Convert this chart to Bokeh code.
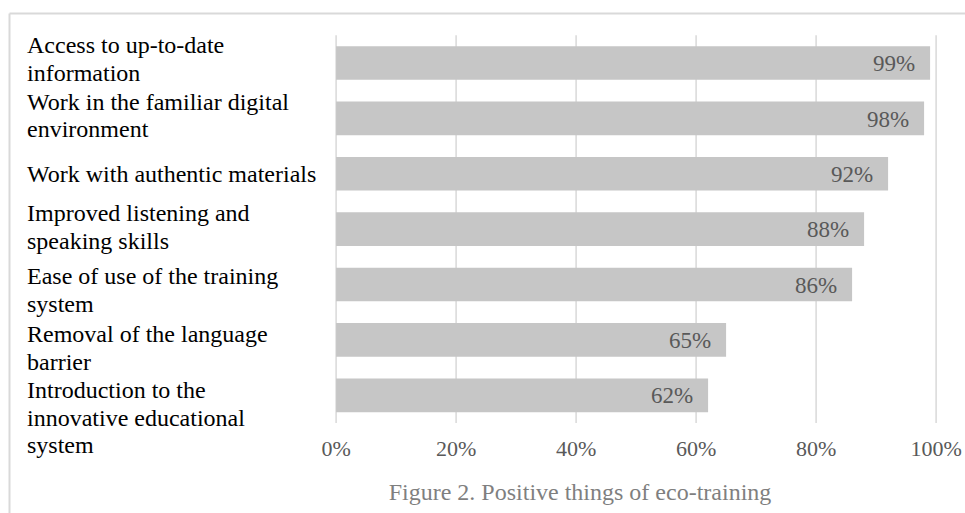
from bokeh.plotting import figure
from bokeh.models import Range1d, ColumnDataSource
from bokeh.core.properties import value
from bokeh.embed import file_html
from bokeh.resources import INLINE

# ---- data ----
categories = [
    "Access to up-to-date\ninformation",
    "Work in the familiar digital\nenvironment",
    "Work with authentic materials",
    "Improved listening and\nspeaking skills",
    "Ease of use of the training\nsystem",
    "Removal of the language\nbarrier",
    "Introduction to the\ninnovative educational\nsystem",
]
values = [99, 98, 92, 88, 86, 65, 62]
ticks = [0, 20, 40, 60, 80, 100]
tick_labels = ["0%", "20%", "40%", "60%", "80%", "100%"]
title_text = "Figure 2. Positive things of eco-training"

# ---- layout (pixels) ----
W, H = 965, 513
X0 = 335.6      # pixel of 0%
PXP = 6.0       # pixels per percent
Y0 = 62.5       # pixel centre of first category
BAND = 55.38    # pixels per category
LINE = 27.6     # label line spacing
label_first_baseline = [-9.2, -8.0, 9.6, -7.3, 0.8, 3.2, 3.7]
BASE_FIX = 0.37  # renderer baseline correction (em)

FONT = value("Liberation Serif")


def dx(px):
    return (px - X0) / PXP


def dy(py):
    return (py - Y0) / BAND


p = figure(width=W, height=H,
           x_range=Range1d(dx(0), dx(W)),
           y_range=Range1d(dy(H), dy(0)),
           x_axis_type=None, y_axis_type=None,
           toolbar_location=None, output_backend="svg",
           min_border=0, title=None)
p.outline_line_color = None
p.background_fill_color = "white"
p.border_fill_color = "white"

n = len(categories)
idx = list(range(n))

# outer frame (top and left edges visible)
p.segment(x0=[dx(9), dx(9)], y0=[dy(13), dy(13)], x1=[dx(W + 5), dx(9)], y1=[dy(13), dy(H + 5)],
          line_color="#d9d9d9", line_width=2)

# vertical gridlines
p.segment(x0=ticks, y0=[-0.5] * len(ticks), x1=ticks, y1=[n - 0.5] * len(ticks),
          line_color="#d9d9d9", line_width=1.5)

# bars
src = ColumnDataSource(dict(y=idx, v=values,
                            lab=[f"{v}%" for v in values],
                            ly=[i + (9.2 - BASE_FIX * 23) / BAND for i in idx]))
p.hbar(y="y", left=0, right="v", height=33.7 / BAND, source=src,
       fill_color="#c6c6c6", line_color=None)

# value labels
p.text(x="v", y="ly", text="lab", source=src, x_offset=-15,
       text_align="right", text_baseline="alphabetic",
       text_font=FONT, text_font_size="23px", text_color="#595959")

# category labels (left-aligned, wrapped)
lx, ly, lt = [], [], []
for i, (cat, off) in enumerate(zip(categories, label_first_baseline)):
    for k, line in enumerate(cat.split("\n")):
        lx.append(dx(26.5))
        ly.append(i + (off + k * LINE - BASE_FIX * 24) / BAND)
        lt.append(line)
p.text(x=lx, y=ly, text=lt, text_align="left", text_baseline="alphabetic",
       text_font=FONT, text_font_size="24px", text_color="#000000")

# x tick labels
p.text(x=ticks, y=[dy(457 - 0.42 * 22)] * len(ticks), text=tick_labels,
       text_align="center", text_baseline="alphabetic",
       text_font=FONT, text_font_size="22px", text_color="#595959")

# caption
p.text(x=[dx(579.5)], y=[dy(501 - 0.41 * 24)], text=[title_text],
       text_align="center", text_baseline="alphabetic",
       text_font=FONT, text_font_size="24px", text_color="#7f7f7f")

open("out.html", "w").write(file_html(p, INLINE))
